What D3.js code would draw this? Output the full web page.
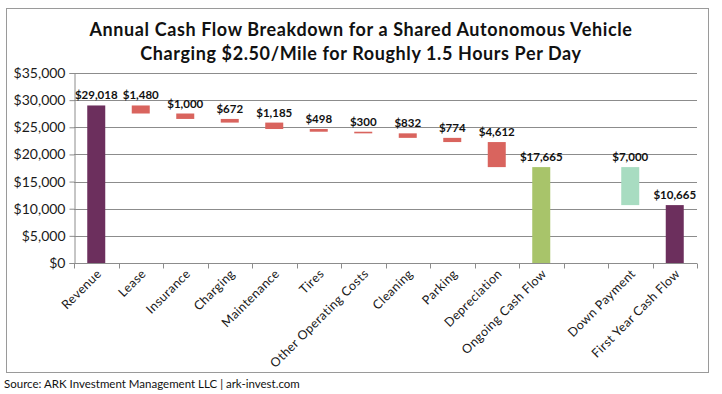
<!DOCTYPE html>
<html>
<head>
<meta charset="utf-8">
<script src="https://cdn.jsdelivr.net/npm/d3@7"></script>
<style>
  body { margin: 0; background: #fff; }
  svg { display: block; font-family: Futura, "Century Gothic", Lato, sans-serif; }
</style>
</head>
<body>
<svg width="722" height="394"></svg>
<script>
let categories = ['Revenue', 'Lease', 'Insurance', 'Charging', 'Maintenance', 'Tires',
  'Other Operating Costs', 'Cleaning', 'Parking', 'Depreciation', 'Ongoing Cash Flow',
  '', 'Down Payment', 'First Year Cash Flow'];
// signed step for each slot; 'total' bars start at zero
let amounts = [29018, -1480, -1000, -672, -1185, -498, -300, -832, -774, -4612, 17665, null, -7000, 10665];
let kinds = ['total', 'cost', 'cost', 'cost', 'cost', 'cost', 'cost', 'cost', 'cost', 'cost', 'sub', null, 'down', 'total'];
let yTicks = [0, 5000, 10000, 15000, 20000, 25000, 30000, 35000];

let colors = { total: '#6c2f5d', cost: '#d9645e', sub: '#a8c46a', down: '#a8dcc1' };

let svg = d3.select('svg');
let margin = { left: 74, right: 25, top: 73, bottom: 131 };
let width = 722, height = 394;

/* frame */
svg.append('rect').attr('x', 6.5).attr('y', 8.5).attr('width', 702).attr('height', 364)
  .attr('fill', 'none').attr('stroke', '#9a9a9a').attr('stroke-width', 1);

let x = d3.scaleBand().domain(d3.range(categories.length))
  .range([margin.left, width - margin.right]).paddingInner(0).paddingOuter(0);
let y = d3.scaleLinear().domain([0, 35000]).range([height - margin.bottom, margin.top]);

/* build waterfall segments */
let bars = [];
let running = 0;
amounts.forEach(function(a, i) {
  if (a === null) return;
  let lo, hi;
  if (kinds[i] === 'total' || kinds[i] === 'sub') {
    lo = 0; hi = a; running = a;
  } else {
    hi = running; lo = running + a; running = lo;
  }
  bars.push({ i: i, lo: lo, hi: hi, kind: kinds[i], label: '$' + d3.format(',')(Math.abs(a)) });
});

/* gridlines */
svg.append('g').selectAll('line').data(yTicks.slice(1)).enter().append('line')
  .attr('x1', margin.left).attr('x2', width - margin.right)
  .attr('y1', d => Math.round(y(d)) + 0.5).attr('y2', d => Math.round(y(d)) + 0.5)
  .attr('stroke', '#8c8c8c').attr('stroke-width', 1);

/* y axis */
let yAxis = svg.append('g').attr('transform', 'translate(' + (margin.left + 0.5) + ',0)')
  .call(d3.axisLeft(y).tickValues(yTicks).tickFormat(d => '$' + d3.format(',')(d)).tickSize(5).tickPadding(4));
yAxis.select('.domain').attr('stroke', '#8c8c8c');
yAxis.selectAll('.tick line').attr('stroke', '#8c8c8c');
yAxis.selectAll('.tick text').attr('font-size', 14).attr('fill', '#1a1a1a')
  .attr('font-family', 'Futura, "Century Gothic", Lato, sans-serif');

/* x axis */
let xAxis = svg.append('g').attr('transform', 'translate(0,' + (Math.round(y(0)) + 0.5) + ')');
xAxis.append('line').attr('x1', margin.left).attr('x2', width - margin.right)
  .attr('stroke', '#8c8c8c');
xAxis.selectAll('.xt').data(d3.range(categories.length + 1)).enter().append('line')
  .attr('class', 'xt')
  .attr('x1', d => Math.round(margin.left + d * x.step()) + 0.5)
  .attr('x2', d => Math.round(margin.left + d * x.step()) + 0.5)
  .attr('y1', 0).attr('y2', 5).attr('stroke', '#8c8c8c');
xAxis.selectAll('text').data(categories).enter().append('text')
  .attr('transform', (d, i) => 'translate(' + (x(i) + x.bandwidth() / 2 + 6) + ',11) rotate(-45)')
  .attr('text-anchor', 'end').attr('font-size', 12.5).attr('letter-spacing', 0.4).attr('fill', '#1a1a1a')
  .text(d => d);

/* bars */
let barW = 18;
svg.append('g').selectAll('rect').data(bars).enter().append('rect')
  .attr('x', d => x(d.i) + x.bandwidth() / 2 - barW / 2)
  .attr('width', barW)
  .attr('y', d => y(d.hi))
  .attr('height', d => Math.max(1, y(d.lo) - y(d.hi)))
  .attr('fill', d => colors[d.kind]);

/* value labels */
svg.append('g').selectAll('text').data(bars).enter().append('text')
  .attr('x', d => x(d.i) + x.bandwidth() / 2)
  .attr('y', d => y(d.hi) - 6)
  .attr('text-anchor', 'middle').attr('font-size', 11.5).attr('font-weight', 'bold')
  .attr('fill', '#111')
  .text(d => d.label);

/* title */
let title = svg.append('g').attr('font-size', 18).attr('font-weight', 'bold').attr('fill', '#111')
  .attr('letter-spacing', 0.6).attr('text-anchor', 'middle');
title.append('text').attr('x', 361).attr('y', 36).text('Annual Cash Flow Breakdown for a Shared Autonomous Vehicle');
title.append('text').attr('x', 361).attr('y', 60).text('Charging $2.50/Mile for Roughly 1.5 Hours Per Day');

/* source */
svg.append('text').attr('x', 4).attr('y', 388).attr('font-size', 11.5).attr('fill', '#111')
  .text('Source: ARK Investment Management LLC | ark-invest.com');
</script>
</body>
</html>
